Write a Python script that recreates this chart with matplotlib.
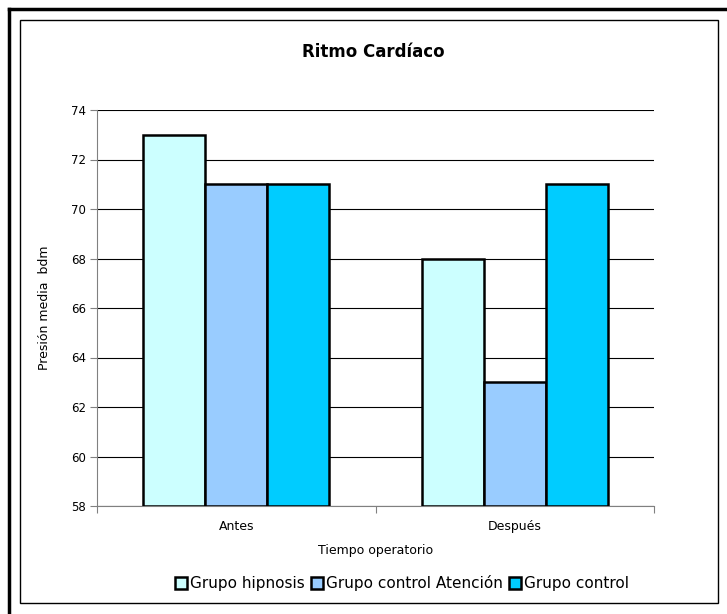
import numpy as np
import matplotlib.pyplot as plt
from matplotlib.patches import Rectangle

# data
categorias = ['Antes', 'Después']
grupos = ['Grupo hipnosis', 'Grupo control Atención', 'Grupo control']
hipnosis = [73, 68]
control_atencion = [71, 63]
control = [71, 71]
colores = ['#CCFFFF', '#99CCFF', '#00CCFF']
yticks = [58, 60, 62, 64, 66, 68, 70, 72, 74]

fig = plt.figure(figsize=(7.27, 6.14), dpi=100)
W, H = 727, 614
ax = fig.add_axes([97 / W, 1 - 506 / H, (654 - 97) / W, (506 - 110) / H])

# frames
fig.add_artist(plt.Line2D([9 / W, 9 / W], [0, 1 - 9 / H], color='black', lw=2.5, transform=fig.transFigure))
fig.add_artist(plt.Line2D([9 / W, 1], [1 - 9 / H, 1 - 9 / H], color='black', lw=2.5, transform=fig.transFigure))
fig.add_artist(Rectangle((20 / W, 1 - 603 / H), (718 - 20) / W, (603 - 20) / H,
                         transform=fig.transFigure, fill=False, lw=1, ec='black'))

x = np.arange(len(categorias))
w = 0.223
series = [hipnosis, control_atencion, control]
for k, vals in enumerate(series):
    ax.bar(x + (k - 1) * w, [v - 58 for v in vals], w, bottom=58, color=colores[k],
           edgecolor='black', linewidth=1.8, label=grupos[k], zorder=3)

ax.set_xlim(-0.5, 1.5)
ax.set_ylim(58, 74)
ax.set_yticks(yticks)
ax.yaxis.grid(True, color='black', linewidth=0.8, zorder=0)
ax.set_axisbelow(True)
ax.set_xticks([-0.5, 0.5, 1.5])
ax.set_xticklabels([])
ax.set_xticks(x, minor=True)
ax.set_xticklabels(categorias, minor=True)
ax.tick_params(axis='x', which='minor', length=0, pad=10, labelsize=9)
ax.tick_params(axis='x', which='major', length=5, direction='out', color='#808080')
ax.tick_params(axis='y', length=5, direction='out', color='#808080', labelsize=8.5, pad=3)
for s in ['top', 'right']:
    ax.spines[s].set_visible(False)
ax.spines['left'].set_color('#808080')
ax.spines['bottom'].set_color('#808080')

ax.set_xlabel('Tiempo operatorio', fontsize=9, labelpad=8)
ax.set_ylabel('Presión media  bdm', fontsize=9, labelpad=14)
fig.text(373 / W, 1 - 52 / H, 'Ritmo Cardíaco', ha='center', va='center', fontsize=12, fontweight='bold')

fig.legend(loc='center', bbox_to_anchor=(402 / W, 1 - 583 / H), ncol=3, frameon=False,
           fontsize=11, handlelength=0.8, handleheight=0.8, handletextpad=0.2, columnspacing=0.4,
           borderaxespad=0)

fig.savefig('out.png', dpi=100)
